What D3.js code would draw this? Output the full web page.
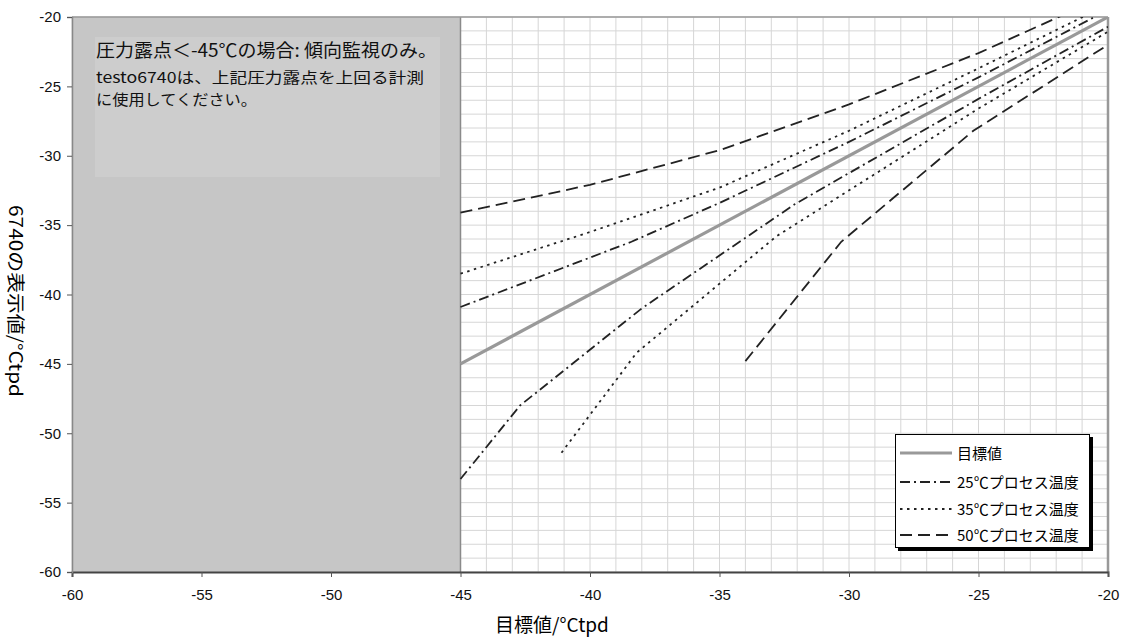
<!DOCTYPE html>
<html><head><meta charset="utf-8">
<script src="https://cdn.jsdelivr.net/npm/d3@7"></script>
<style>body{margin:0;background:#fff}</style>
</head><body>
<svg id="c" width="1124" height="637"></svg>
<script>
// ---- data ----
const xTicks = [-60, -55, -50, -45, -40, -35, -30, -25, -20];
const yTicks = [-60, -55, -50, -45, -40, -35, -30, -25, -20];
const targetLine = [[-45, -45], [-20, -20]];
const p25Upper = [[-45, -40.9], [-38.4, -36.2], [-35, -33.4], [-30, -29.0], [-25, -24.35], [-20, -19.5]];
const p25Lower = [[-45, -53.3], [-42.7, -48.0], [-38.0, -41.0], [-32.1, -33.5], [-25, -25.9], [-20, -20.7]];
const p35Upper = [[-45, -38.5], [-40, -35.5], [-35, -32.3], [-30, -28.2], [-25, -23.7], [-20, -19.1]];
const p35Lower = [[-41.1, -51.4], [-38.2, -44.2], [-32.8, -35.8], [-25, -26.6], [-20, -21.06]];
const p50Upper = [[-45, -34.1], [-40, -32.1], [-35, -29.6], [-30, -26.3], [-25, -22.6], [-20, -18.4]];
const p50Lower = [[-34, -44.8], [-30.3, -36.2], [-25.2, -28.2], [-20, -22.0]];
const legendLabels = ["目標値", "25℃プロセス温度", "35℃プロセス温度", "50℃プロセス温度"];
const noteLines = ["圧力露点＜-45℃の場合: 傾向監視のみ。", "testo6740は、上記圧力露点を上回る計測", "に使用してください。"];
const xTitle = "目標値/°Ctpd";
const yTitle = "6740の表示値/°Ctpd";
const trendLimit = -45;

// ---- layout ----
const W = 1124, H = 637;
const m = {l: 72, r: 16, t: 17, b: 65};
const svg = d3.select("#c");
const x = d3.scaleLinear().domain([-60, -20]).range([m.l, W - m.r]);
const y = d3.scaleLinear().domain([-60, -20]).range([H - m.b, m.t]);
const FONT = "'Noto Sans CJK JP', 'Noto Sans', sans-serif";
const NUMFONT = "'Liberation Sans', Arial, sans-serif";

svg.append("defs").append("clipPath").attr("id", "clip")
  .append("rect").attr("x", m.l).attr("y", m.t).attr("width", x(-20) - m.l).attr("height", y(-60) - m.t);

// grid
const minor = d3.range(-60, -19, 1);
const g = svg.append("g");
g.selectAll(".vg").data(minor).join("line")
  .attr("x1", d => x(d)).attr("x2", d => x(d)).attr("y1", m.t).attr("y2", y(-60))
  .attr("stroke", "#d6d6d6").attr("stroke-width", 1);
g.selectAll(".hg").data(minor).join("line")
  .attr("y1", d => y(d)).attr("y2", d => y(d)).attr("x1", m.l).attr("x2", x(-20))
  .attr("stroke", "#d6d6d6").attr("stroke-width", 1);

// gray zone
svg.append("rect").attr("x", x(-60)).attr("y", y(-20)).attr("width", x(trendLimit) - x(-60)).attr("height", y(-60) - y(-20))
  .attr("fill", "#c6c6c6");
svg.append("line").attr("x1", x(trendLimit)).attr("x2", x(trendLimit)).attr("y1", y(-20)).attr("y2", y(-60))
  .attr("stroke", "#8a8a8a").attr("stroke-width", 1.5);

// note box
svg.append("rect").attr("x", 95).attr("y", 37).attr("width", 345).attr("height", 140).attr("fill", "#cdcdcd");
const noteY = [57, 83, 105];
const noteLen = [341, 328, 161];
const noteSize = [18, 15, 15];
noteLines.forEach((t, i) => {
  svg.append("text").attr("x", 96).attr("y", noteY[i]).attr("font-family", FONT).attr("font-size", noteSize[i])
    .attr("fill", "#111").attr("textLength", noteLen[i]).attr("lengthAdjust", "spacingAndGlyphs").text(t);
});

// plot border (top/right)
svg.append("line").attr("x1", m.l).attr("x2", x(-20)).attr("y1", y(-20)).attr("y2", y(-20))
  .attr("stroke", "#999").attr("stroke-width", 1.5);
svg.append("line").attr("x1", x(-20)).attr("x2", x(-20)).attr("y1", y(-20)).attr("y2", y(-60))
  .attr("stroke", "#999").attr("stroke-width", 2.5);

// series
const line = d3.line().x(d => x(d[0])).y(d => y(d[1]));
const lines = svg.append("g").attr("clip-path", "url(#clip)");
lines.append("path").datum(targetLine).attr("d", line).attr("fill", "none").attr("stroke", "#999").attr("stroke-width", 3.2);
const styles = [
  {data: [p25Upper, p25Lower], dash: "10,4,2,4"},
  {data: [p35Upper, p35Lower], dash: "2.5,4.5"},
  {data: [p50Upper, p50Lower], dash: "12,6"}
];
styles.forEach(s => s.data.forEach(dd => {
  lines.append("path").datum(dd).attr("d", line).attr("fill", "none")
    .attr("stroke", "#222").attr("stroke-width", 1.8).attr("stroke-dasharray", s.dash);
}));

// axes
const fmt = d => String(d);
const xAxis = svg.append("g").attr("transform", `translate(0,${y(-60)})`)
  .call(d3.axisBottom(x).tickValues(xTicks).tickFormat(fmt).tickSize(5).tickPadding(12));
const yAxis = svg.append("g").attr("transform", `translate(${m.l},0)`)
  .call(d3.axisLeft(y).tickValues(yTicks).tickFormat(fmt).tickSize(5).tickPadding(6));
[xAxis, yAxis].forEach(a => {
  a.selectAll("text").attr("font-family", NUMFONT).attr("font-size", 15).attr("fill", "#111");
  a.selectAll(".tick line").attr("stroke", "#555");
});
xAxis.select(".domain").attr("stroke", "#444").attr("stroke-width", 2);
yAxis.select(".domain").attr("stroke", "#888").attr("stroke-width", 1.5);

// titles
svg.append("text").attr("x", 552).attr("y", 632).attr("text-anchor", "middle")
  .attr("font-family", FONT).attr("font-size", 19).attr("fill", "#000").text(xTitle);
svg.append("text").attr("transform", "translate(9,301) rotate(90)").attr("text-anchor", "middle")
  .attr("font-family", FONT).attr("font-size", 18).attr("fill", "#000")
  .attr("textLength", 192).attr("lengthAdjust", "spacingAndGlyphs").text(yTitle);

// legend
const lg = svg.append("g");
lg.append("rect").attr("x", 898).attr("y", 437).attr("width", 195).attr("height", 114).attr("fill", "#000");
lg.append("rect").attr("x", 895.5).attr("y", 434.5).attr("width", 194).attr("height", 113).attr("fill", "#fff")
  .attr("stroke", "#000").attr("stroke-width", 1);
const rowY = [453, 482, 509, 535];
const legStyles = [
  {stroke: "#999", w: 3.2, dash: null},
  {stroke: "#222", w: 1.8, dash: "10,4,2,4"},
  {stroke: "#222", w: 1.8, dash: "2.5,4.5"},
  {stroke: "#222", w: 1.8, dash: "12,6"}
];
legendLabels.forEach((t, i) => {
  lg.append("line").attr("x1", 900).attr("x2", 952).attr("y1", rowY[i]).attr("y2", rowY[i])
    .attr("stroke", legStyles[i].stroke).attr("stroke-width", legStyles[i].w)
    .attr("stroke-dasharray", legStyles[i].dash);
  lg.append("text").attr("x", 957).attr("y", rowY[i] + 5.5).attr("font-family", FONT).attr("font-size", 15)
    .attr("fill", "#000").text(t);
});
</script>
</body></html>
